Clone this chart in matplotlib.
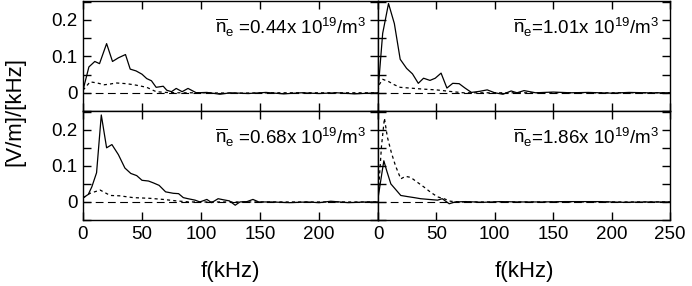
import numpy as np
import matplotlib
matplotlib.use("Agg")
from matplotlib import pyplot as plt
from matplotlib.ticker import MultipleLocator

plt.rcParams["font.family"] = "Liberation Sans"
plt.rcParams["mathtext.fontset"] = "custom"
plt.rcParams["mathtext.rm"] = "Liberation Sans"
plt.rcParams["mathtext.it"] = "Liberation Sans:italic"

# ---- data (f in kHz, amplitude in [V/m]/[kHz]) ----
# ne = 0.44
tl_f_solid = [0, 5, 10, 14, 20, 25, 30, 36, 40, 45, 50, 54, 58, 62, 68, 71, 75, 79, 84, 89, 96,
              105, 116, 125, 140, 155, 170, 185, 200, 215, 230, 250]
tl_solid = [0.007, 0.071, 0.086, 0.080, 0.135, 0.086, 0.096, 0.105, 0.065, 0.060, 0.051, 0.039,
            0.033, 0.015, 0.018, 0.007, 0.003, 0.012, 0.003, 0.012, 0.000, 0.001, -0.004, 0.000,
            -0.002, 0.001, -0.003, 0.000, -0.002, 0.000, -0.003, 0.000]
tl_f_dot = [0, 6, 12, 18, 23, 28, 37, 45, 54, 62, 70, 80, 100, 130, 160, 200, 250]
tl_dot = [0.007, 0.030, 0.027, 0.022, 0.024, 0.027, 0.025, 0.021, 0.015, 0.003, 0.001, 0.0,
          0.0, -0.001, 0.0, 0.0, 0.0]

# ne = 1.01
tr_f_solid = [0, 4, 9, 14, 19, 24.5, 29.5, 34.5, 39, 44.5, 49, 54, 59, 64, 69.5, 74.5, 80, 87,
              93.5, 100, 107, 114, 119, 125, 135, 150, 165, 180, 200, 215, 230, 250]
tr_solid = [0.004, 0.163, 0.245, 0.190, 0.092, 0.067, 0.052, 0.026, 0.040, 0.034, 0.040, 0.054,
            0.013, 0.026, 0.025, 0.013, 0.001, 0.004, 0.008, 0.000, -0.004, 0.005, 0.000, 0.006,
            0.000, 0.002, 0.000, 0.001, -0.001, 0.001, 0.000, 0.000]
tr_f_dot = [0, 1, 4, 9, 14, 19, 27, 39, 50, 61, 73, 100, 150, 250]
tr_dot = [0.005, 0.022, 0.037, 0.031, 0.022, 0.015, 0.013, 0.010, 0.008, 0.004, 0.0, 0.0, 0.0, 0.0]

# ne = 0.68
bl_f_solid = [0, 4.5, 7.5, 11.5, 15.5, 20, 24.5, 30, 35.5, 40.5, 45.5, 50, 55.5, 59.5, 64.5, 70,
              76.5, 81, 85, 89, 95, 99, 105, 109, 114.5, 119, 124, 129, 133, 139, 144, 149, 160,
              175, 190, 200, 210, 225, 240, 250]
bl_solid = [0.011, 0.021, 0.042, 0.081, 0.241, 0.150, 0.159, 0.131, 0.094, 0.079, 0.073, 0.060,
            0.058, 0.053, 0.046, 0.028, 0.024, 0.023, 0.012, 0.009, 0.005, 0.000, 0.007, -0.002,
            0.009, 0.006, 0.003, -0.009, 0.000, 0.001, 0.007, 0.000, 0.000, -0.002, 0.000,
            -0.002, 0.002, -0.002, 0.000, 0.000]
bl_f_dot = [0, 6, 14.5, 23, 31, 42.5, 57, 68, 79, 90, 110, 150, 250]
bl_dot = [0.011, 0.024, 0.033, 0.018, 0.017, 0.012, 0.010, 0.007, 0.003, 0.0, 0.0, 0.0, 0.0]

# ne = 1.86
br_f_solid = [0, 3, 5, 7.5, 11, 15, 19.5, 25, 31, 36.5, 43.5, 51, 55, 61, 66, 75, 90, 105, 120,
              140, 160, 190, 210, 230, 250]
br_solid = [0.010, 0.073, 0.114, 0.086, 0.050, 0.035, 0.018, 0.015, 0.012, 0.009, 0.007, 0.005,
            0.009, -0.005, 0.000, 0.001, -0.001, 0.001, 0.000, 0.000, 0.001, 0.001, -0.001,
            0.000, 0.000]
br_f_dot = [0, 3, 5.5, 8, 11.5, 15, 19.5, 23.5, 28, 33.5, 39.5, 45, 51, 56.5, 62, 70, 100, 150, 250]
br_dot = [0.010, 0.155, 0.232, 0.180, 0.136, 0.100, 0.064, 0.071, 0.068, 0.055, 0.041, 0.027,
          0.014, 0.009, 0.002, 0.0, 0.0, 0.0, 0.0]

densities = ["0.44", "1.01", "0.68", "1.86"]
x_ticks = [0, 50, 100, 150, 200, 250]
y_ticks = [0, 0.1, 0.2]

panels = [
    (tl_f_solid, tl_solid, tl_f_dot, tl_dot),
    (tr_f_solid, tr_solid, tr_f_dot, tr_dot),
    (bl_f_solid, bl_solid, bl_f_dot, bl_dot),
    (br_f_solid, br_solid, br_f_dot, br_dot),
]

fig = plt.figure(figsize=(6.92, 2.86), dpi=100)

x0, xm, x1 = 83 / 692, 378 / 692, 670 / 692
y_top, y_mid, y_bot = 1 - 1 / 286, 1 - 111 / 286, 1 - 220 / 286
rects = [
    [x0, y_mid, xm - x0, y_top - y_mid],
    [xm, y_mid, x1 - xm, y_top - y_mid],
    [x0, y_bot, xm - x0, y_mid - y_bot],
    [xm, y_bot, x1 - xm, y_mid - y_bot],
]

for i, (rect, (fs, s, fd, d)) in enumerate(zip(rects, panels)):
    ax = fig.add_axes(rect)
    ax.axhline(0, color="black", lw=0.8, ls=(0, (7, 4)))
    ax.plot(fd, d, color="black", lw=0.9, ls=(0, (2.5, 2.5)))
    ax.plot(fs, s, color="black", lw=0.9)
    ax.set_xlim(0, 250)
    ax.set_ylim(-0.05, 0.252)
    ax.set_xticks(x_ticks)
    ax.set_yticks(y_ticks)
    ax.yaxis.set_minor_locator(MultipleLocator(0.05))
    ax.tick_params(which="both", direction="in", top=True, right=True,
                   length=6, width=1, labelsize=13.5, pad=4)
    for sp in ax.spines.values():
        sp.set_linewidth(1.0)

    left = i % 2 == 0
    bottom = i >= 2
    if left:
        ax.set_yticklabels(["0", "0.1", "0.2"])
    else:
        ax.tick_params(labelleft=False)
    if bottom:
        if left:
            ax.set_xticklabels(["0", "50", "100", "150", "200", ""])
        ax.set_xlabel("f(kHz)", fontsize=16, labelpad=13)
    else:
        ax.tick_params(labelbottom=False)

    eq = " =" if left else "="
    label = (r"$\overline{\mathrm{n}}_\mathrm{e}$" + eq + densities[i]
             + r"x 10$^{19}$/m$^3$")
    ax.text(0.962, 0.70, label, transform=ax.transAxes, ha="right", va="baseline",
            fontsize=13.5)

fig.text(15 / 692, 1 - 111 / 286, "[V/m]/[kHz]", rotation=90, ha="center", va="center",
         fontsize=16)

plt.savefig("out.png", dpi=100)
